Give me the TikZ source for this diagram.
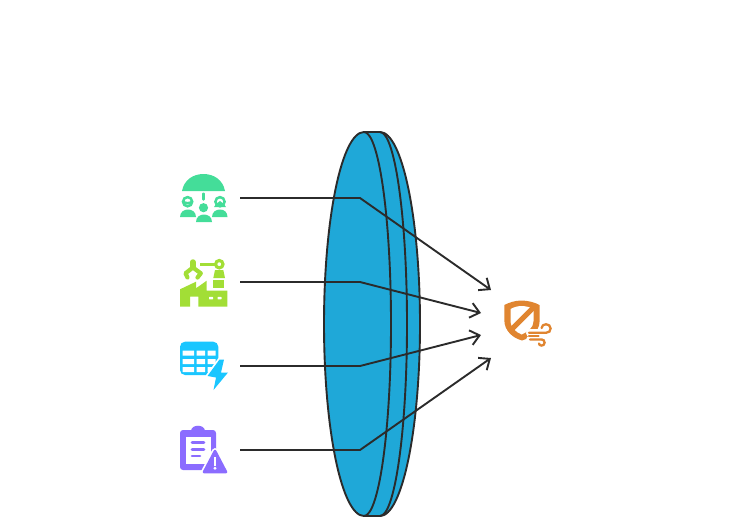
\documentclass[tikz,border=0pt]{standalone}
\usetikzlibrary{arrows.meta}
\definecolor{ink}{HTML}{2B2B2B}
\definecolor{lensblue}{HTML}{1FA8D8}
\definecolor{icgreen}{HTML}{44DD99}
\definecolor{iclime}{HTML}{A2DE36}
\definecolor{icblue}{HTML}{1AC6FF}
\definecolor{icpurple}{HTML}{8B6CFF}
\definecolor{icorange}{HTML}{E08530}
\tikzset{
  lensline/.style={draw=ink,line width=1.9pt},
  link/.style={draw=ink,line width=1.9pt,line join=miter,-{Straight Barb[length=9pt,width=15pt,line width=1.9pt]}},
}
\begin{document}
\begin{tikzpicture}[x=1pt,y=-1pt]
\useasboundingbox (0,0) rectangle (743,531);
% lens
\fill[lensblue] (364,132) .. controls (341.9,132) and (324,218) .. (324,324) .. controls (324,430) and (341.9,516) .. (364,516) -- (380,516) .. controls (402.1,516) and (420,430) .. (420,324) .. controls (420,218) and (402.1,132) .. (380,132) -- cycle;
\draw[lensline,line join=round] (364,132) .. controls (341.9,132) and (324,218) .. (324,324) .. controls (324,430) and (341.9,516) .. (364,516) -- (380,516) .. controls (402.1,516) and (420,430) .. (420,324) .. controls (420,218) and (402.1,132) .. (380,132) -- cycle;
\draw[lensline] (364,132) .. controls (378.9,132) and (391,218) .. (391,324) .. controls (391,430) and (378.9,516) .. (364,516);
\draw[lensline] (380,132) .. controls (394.9,132) and (407,218) .. (407,324) .. controls (407,430) and (394.9,516) .. (380,516);
% connectors
\coordinate (s1) at (240,198); \coordinate (b1) at (360,198); \coordinate (e1) at (491,290);
\coordinate (s2) at (240,282); \coordinate (b2) at (360,282); \coordinate (e2) at (481,313);
\coordinate (s3) at (240,366); \coordinate (b3) at (360,366); \coordinate (e3) at (481,335);
\coordinate (s4) at (240,450); \coordinate (b4) at (360,450); \coordinate (e4) at (491,358);
\draw[link] (s1) -- (b1) -- (e1);
\draw[link] (s2) -- (b2) -- (e2);
\draw[link] (s3) -- (b3) -- (e3);
\draw[link] (s4) -- (b4) -- (e4);
% icon 1: people under umbrella
\begin{scope}[icgreen]
\fill (182,191) .. controls (184,180) and (193,174) .. (203.5,174) .. controls (214,174) and (223,180) .. (225,191) -- cycle;
\fill[rounded corners=1pt] (202.1,192.5) rectangle (204.9,200.5);
\draw[line width=2.5pt,fill=white] (187.6,201.7) circle (4.6);
\fill (183.5,200) .. controls (185,202.5) and (190,202.5) .. (192,200) -- (192,203) .. controls (190,205) and (185,205) .. (183.5,203) -- cycle;
\draw[line width=2.5pt,fill=white] (220,201.7) circle (4.6);
\fill (220,201) -- (224,204) -- (226,207) -- (214,207) -- (216,204) -- cycle;
\fill (203.5,207.7) circle (4.6);
\fill (180,217) .. controls (180,212) and (184,209.5) .. (188,209.5) .. controls (192,209.5) and (196,212) .. (196,217) -- cycle;
\fill (212,217) .. controls (212,212) and (216,209.5) .. (220,209.5) .. controls (224,209.5) and (227.5,212) .. (227.5,217) -- cycle;
\fill (196,222) .. controls (196,217) and (200,214.5) .. (204,214.5) .. controls (208,214.5) and (212,217) .. (212,222) -- cycle;
\end{scope}
% icon 2: factory with robot arm
\begin{scope}[iclime]
\fill (180,306.7) -- (180,289.3) -- (196,281.7) -- (196,288.3) -- (206.7,280.7) -- (206.7,290.7) -- (227.3,290.7) -- (227.3,306.7) -- (198.3,306.7) -- (198.3,296.7) -- (190,296.7) -- (190,306.7) -- cycle;
\fill[white,rounded corners=0.5pt] (209,296.8) rectangle (213,299.4) (217.5,296.8) rectangle (221.5,299.4);
\fill (213.3,280) rectangle (224.3,288);
\fill (215,270) -- (223.3,270) -- (225,278) -- (213.3,278) -- cycle;
\fill (200,262.7) rectangle (215,265.5);
\fill[even odd rule] (219.3,264.2) circle (5.4) (219.3,264.2) circle (2);
\draw[line width=5.5pt,line cap=round,line join=round] (192.9,262) -- (192.9,267);
\draw[line width=4.2pt,line join=round,line cap=round] (187.5,277.5) -- (185.5,273.3) -- (192.9,267.5) -- (200.8,273.3) -- (197.5,277.5);
\end{scope}
% icon 3: table with lightning bolt
\fill[icblue,rounded corners=5pt] (180,341.7) rectangle (218.3,375);
\fill[white] (182.7,350.7) rectangle (194,355.7) (196.7,350.7) rectangle (205,355.7) (207.7,350.7) rectangle (215.7,355.7)
 (182.7,359) rectangle (194,364) (196.7,359) rectangle (205,364) (207.7,359) rectangle (215.7,364)
 (182.7,367) rectangle (194,372) (196.7,367) rectangle (205,372) (207.7,367) rectangle (215.7,372);
\draw[white,line width=3.5pt,line join=round] (219.5,359.5) -- (207.5,376) -- (216,377.5) -- (213.5,390) -- (228,372.5) -- (221,372.5) -- (224,359.5) -- cycle;
\fill[icblue] (219.5,359.5) -- (207.5,376) -- (216,377.5) -- (213.5,390) -- (228,372.5) -- (221,372.5) -- (224,359.5) -- cycle;
% icon 4: clipboard with warning
\begin{scope}[icpurple]
\fill[rounded corners=3pt] (180,430) rectangle (216,470);
\fill (191,431) .. controls (191,423.5) and (205,423.5) .. (205,431) -- cycle;
\fill[white] (185.7,436.7) rectangle (210.7,464);
\draw[line width=2.6pt,line cap=round] (192,442.7) -- (204,442.7) (192,449.3) -- (204,449.3) (192,456) -- (200,456);
\draw[white,line width=6pt,line join=round] (215,451) -- (226,472) -- (204,472) -- cycle;
\filldraw[line width=2.6pt,line join=round] (215,451) -- (226,472) -- (204,472) -- cycle;
\fill[white] (213.8,457) rectangle (216.2,465.5);
\fill[white] (215,468.3) circle (1.6);
\end{scope}
% icon 5: shield with wind
\fill[icorange] (521.7,300.5) .. controls (528,300.5) and (535,302.5) .. (539.5,305) -- (539.5,322) .. controls (539.5,331) and (530,338) .. (522,340.5) .. controls (513,338) and (504.3,331) .. (504.3,320) -- (504.3,305) .. controls (509,302.5) and (515,300.5) .. (521.7,300.5) -- cycle;
\fill[white] (521.7,306) .. controls (525,306) and (530,307) .. (533.5,309) -- (533.5,321) .. controls (533.5,328) and (527,332) .. (521.7,334.5) .. controls (516,332) and (510.5,328) .. (510.5,320) -- (510.5,309) .. controls (514,307) and (518,306) .. (521.7,306) -- cycle;
\draw[icorange,line width=5pt] (535,306) -- (511.5,329.5);
\draw[white,line width=8pt,line cap=round] (530,333) -- (545,333) (530,339.5) -- (541,339.5);
\draw[icorange,line width=2.3pt,line cap=round] (529,332.8) -- (546,332.8) .. controls (549,332.8) and (550.6,331) .. (550.6,328.4) .. controls (550.6,326) and (548.5,324.2) .. (546,324.2) .. controls (543.5,324.2) and (541.6,326) .. (541.6,328);
\draw[icorange,line width=2.3pt,line cap=round] (529,336.1) -- (538.5,336.1);
\draw[icorange,line width=2.3pt,line cap=round] (530,339.4) -- (541.5,339.4) .. controls (543.5,339.4) and (544.6,341) .. (544.6,342.7) .. controls (544.6,344.5) and (543,345.6) .. (541.5,345.6) .. controls (540,345.6) and (539,344.5) .. (539,343.5);
\end{tikzpicture}
\end{document}
